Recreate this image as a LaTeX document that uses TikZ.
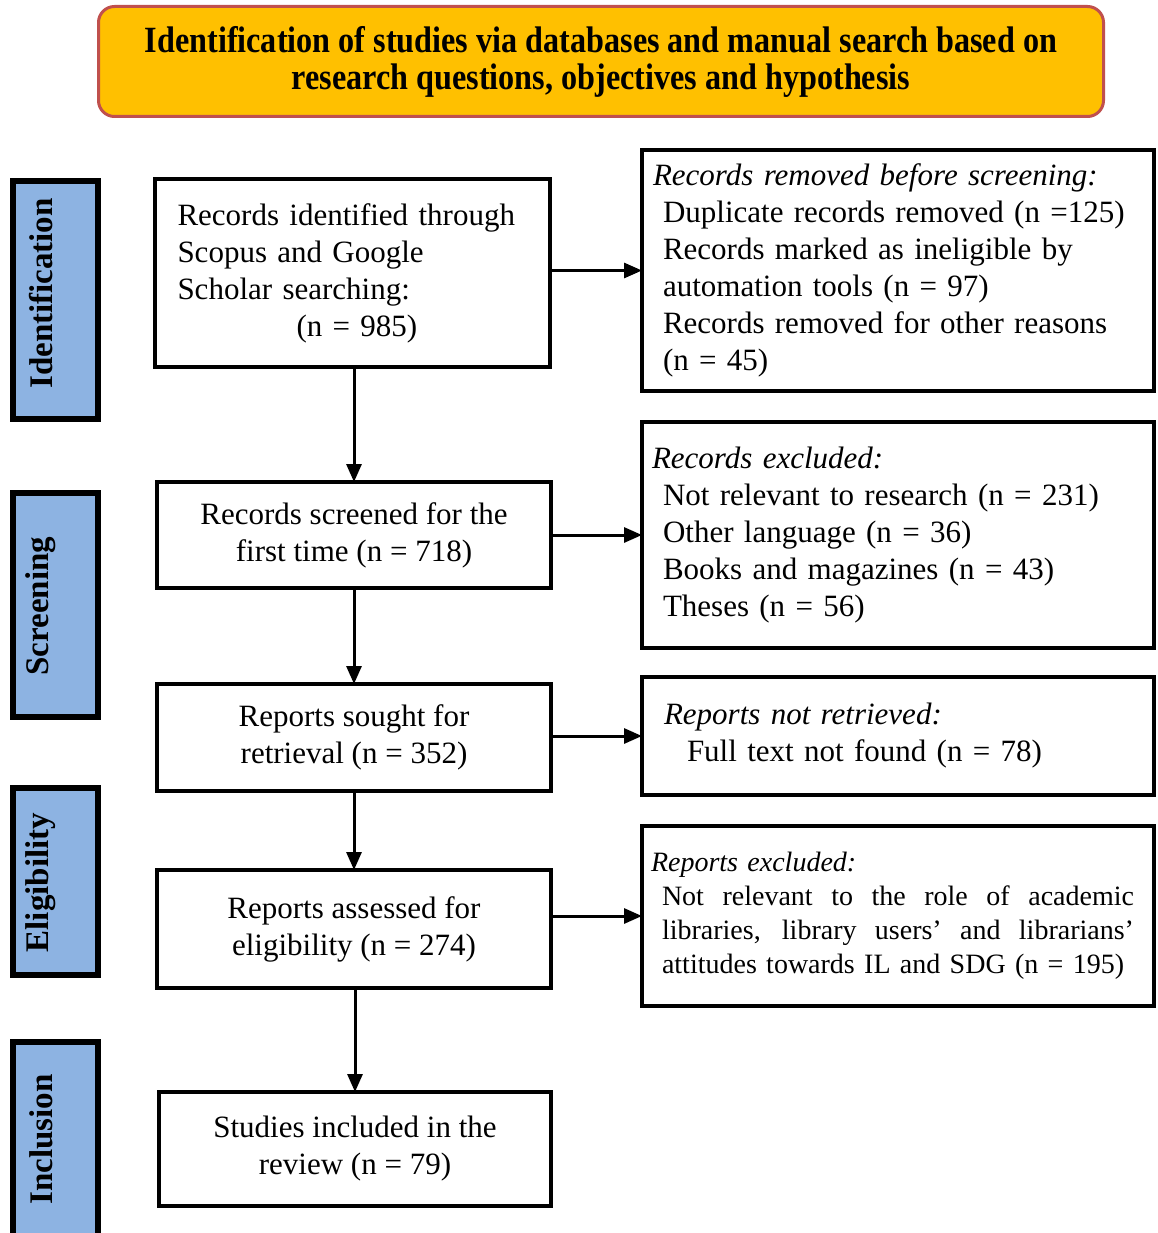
\documentclass[tikz,border=0pt]{standalone}
\usepackage{fontspec}
\setmainfont{Liberation Serif}
\newfontfamily\headfont[FakeStretch=0.87]{Liberation Serif}
\usetikzlibrary{arrows.meta,calc}

\definecolor{headfill}{HTML}{FFC000}
\definecolor{headline}{HTML}{C0504D}
\definecolor{phasefill}{HTML}{8DB3E2}

% a line set to the full given width, its word spaces stretched evenly
\newcommand{\spreadline}[2]{\leavevmode\hbox to #1{\spaceskip=0.25em plus 1fil\relax #2}}

\begin{document}
\begin{tikzpicture}[x=1pt,y=-1pt,
  every node/.style={inner sep=0pt,outer sep=0pt},
  headbox/.style={draw=headline,fill=headfill,line width=3pt,rounded corners=16pt,
    align=center,font=\headfont\bfseries\fontsize{37}{37}\selectfont},
  phasebox/.style={draw=black,fill=phasefill,line width=6pt},
  phasetext/.style={rotate=90,font=\bfseries\fontsize{33}{36}\selectfont},
  flowbox/.style={draw=black,line width=4pt,align=center,
    font=\fontsize{31}{37}\selectfont},
  sidebox/.style={draw=black,line width=4pt,align=left,
    font=\fontsize{31}{37}\selectfont},
  arr/.style={line width=3pt,-{Triangle[length=18pt,width=15pt]}}]

\useasboundingbox (0,0) rectangle (1158,1233);
\clip (0,0) rectangle (1158,1233);

% heading
\node[headbox,minimum width=1005pt,minimum height=110pt] (head) at (601,61.5)
  {Identification of studies via databases and manual search based on\\
   research questions, objectives and hypothesis};

% phase labels
\node[phasebox,minimum width=85pt,minimum height=238pt] (pid) at (55.5,300) {};
\node[phasetext] (pidt) at (41,293.5) {Identification};
\node[phasebox,minimum width=85pt,minimum height=224pt] (psc) at (55.5,605) {};
\node[phasetext] (psct) at (41,606) {Screening};
\node[phasebox,minimum width=85pt,minimum height=187pt] (pel) at (55.5,881.5) {};
\node[phasetext] (pelt) at (41,882.5) {Eligibility};
\node[phasebox,minimum width=85pt,minimum height=204pt] (pin) at (55.5,1144) {};
\node[phasetext] (pint) at (41,1139.5) {Inclusion};

% main flow
\node[flowbox,align=left,text width=350pt,minimum width=395pt,minimum height=188pt] (idf) at (352.5,273)
  {Records identified through\\Scopus and Google\\Scholar searching:\\
   \hspace*{119pt}(n = 985)};
\node[flowbox,minimum width=394pt,minimum height=106pt] (scr) at (354,535)
  {Records screened for the\\first time (n = 718)};
\node[flowbox,minimum width=394pt,minimum height=107pt] (sgt) at (354,737.5)
  {Reports sought for\\retrieval (n = 352)};
\node[flowbox,minimum width=394pt,minimum height=118pt] (asm) at (354,929)
  {Reports assessed for\\eligibility (n = 274)};
\node[flowbox,minimum width=392pt,minimum height=114pt] (inc) at (355,1149)
  {Studies included in the\\review (n = 79)};

% side boxes
\node[sidebox,text width=490pt,minimum width=512pt,minimum height=241pt] (rem) at (898,270.5)
  {{\itshape Records removed before screening:}\\
   \hspace*{10pt}Duplicate records removed (n =125)\\
   \hspace*{10pt}Records marked as ineligible by\\
   \hspace*{10pt}automation tools (n = 97)\\
   \hspace*{10pt}Records removed for other reasons\\
   \hspace*{10pt}(n = 45)};
\node[sidebox,text width=492pt,minimum width=512pt,minimum height=226pt] (exc) at (898,535)
  {{\itshape Records excluded:}\\
   \hspace*{11pt}Not relevant to research (n = 231)\\
   \hspace*{11pt}Other language (n = 36)\\
   \hspace*{11pt}Books and magazines (n = 43)\\
   \hspace*{11pt}Theses (n = 56)};
\node[sidebox,text width=468pt,minimum width=512pt,minimum height=118pt] (nrt) at (898,736)
  {{\itshape Reports not retrieved:}\\
   \hspace*{23pt}Full text not found (n = 78)};
\node[sidebox,text width=472pt,minimum width=512pt,minimum height=180pt,
      font=\fontsize{28}{34}\selectfont] (rep) at (898,916)
  {\hspace*{-11pt}{\itshape Reports excluded:}\\
   \spreadline{472pt}{Not relevant to the role of academic}\\
   \spreadline{472pt}{libraries, library users’ and librarians’}\\
   \mbox{attitudes towards IL and SDG (n = 195)}};

% connectors
\draw[arr] (idf.south -| scr.north) -- (scr.north);
\draw[arr] (scr.south) -- (sgt.north);
\draw[arr] (sgt.south) -- (asm.north);
\draw[arr] (asm.south -| inc.north) -- (inc.north);
\draw[arr] (rem.west -| idf.east) -- (rem.west);
\draw[arr] (exc.west -| scr.east) -- (exc.west);
\draw[arr] (nrt.west -| sgt.east) -- (nrt.west);
\draw[arr] (rep.west -| asm.east) -- (rep.west);
\end{tikzpicture}
\end{document}
